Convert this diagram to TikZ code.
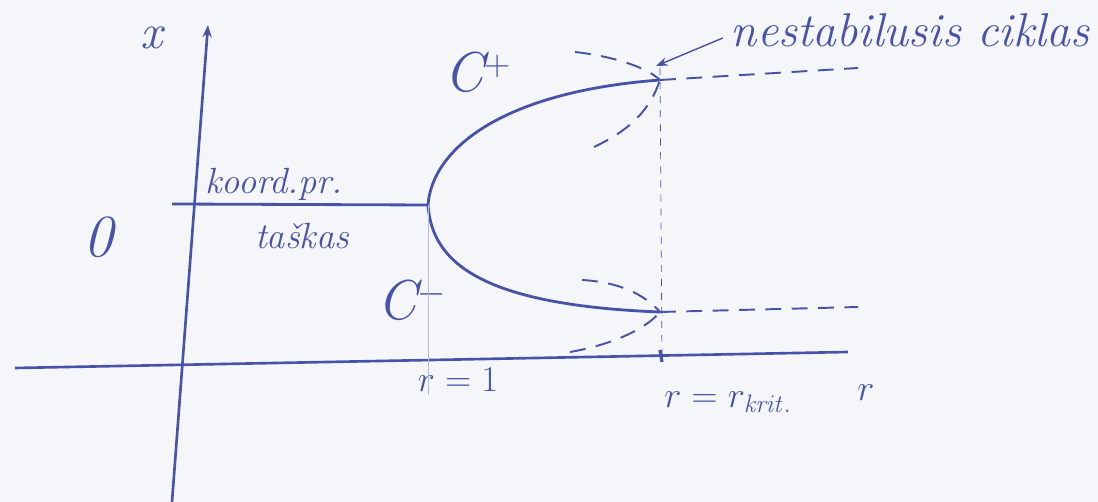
\documentclass[tikz,border=0pt]{standalone}
\usepackage{tikz}
\usetikzlibrary{arrows.meta, positioning}
\definecolor{pen}{RGB}{72,82,170}
\definecolor{paper}{RGB}{244,246,250}

\begin{document}
\begin{tikzpicture}[
    x=0.02cm, y=-0.02cm,
    label/.style={text=pen, font=\huge\itshape, inner sep=1pt},
    curve/.style={draw=pen, line width=1.6pt},
    unstable/.style={draw=pen, line width=1.1pt, dash pattern=on 9pt off 6pt},
    guide/.style={draw=pen!40, very thin},
    arrow/.style={-{Stealth}, draw=pen, thick}
]
\useasboundingbox (0,0) rectangle (1098,502);
\fill[paper] (0,0) rectangle (1098,502);

% Points
\coordinate (xleft) at (15,368);
\coordinate (xright) at (848,352);
\coordinate (ybottom) at (172,502);
\coordinate (ytop) at (208,25);
\coordinate (start) at (172,204);
\coordinate (vertex) at (428,205);
\coordinate (vfoot) at (428,395);
\coordinate (cplus) at (660,80);
\coordinate (cminus) at (660,312);
\coordinate (rkfoot) at (662,362);
\coordinate (rktop) at (660,68);
\coordinate (pend) at (858,68);
\coordinate (mend) at (858,307);

% Nodes
\node[label, font=\fontsize{28}{32}\selectfont\itshape] (xlab) at (152,38) {x};
\node[label, font=\fontsize{34}{40}\selectfont\itshape] (zero) at (98,237) {0};
\node[label] (koord) at (274,184) {koord.pr.};
\node[label] (taskas) at (302,236) {taškas};
\node[label, font=\fontsize{32}{38}\selectfont\itshape] (cpluslab) at (478,72) {C$^{+}$};
\node[label, font=\fontsize{32}{38}\selectfont\itshape] (cminuslab) at (412,300) {C$^{-}$};
\node[label] (r1) at (458,380) {$r=1$};
\node[label] (rkrit) at (728,402) {$r=r_{\mathit{krit.}}$};
\node[label] (rlab) at (866,393) {$r$};
\node[label, font=\fontsize{27}{32}\selectfont\itshape] (cycle) at (910,30) {nestabilusis ciklas};

% Axes
\draw[draw=pen, line width=1.5pt] (xleft) -- (xright);
\draw[draw=pen, line width=1.5pt, -{Stealth[length=7pt]}] (ybottom) -- (ytop);

% Stable branches
\draw[curve] (start) -- (vertex);
\draw[curve] (vertex) .. controls (432,150) and (500,92) .. (cplus);
\draw[curve] (vertex) .. controls (432,262) and (480,305) .. (cminus);

% Guides and critical value
\draw[guide] (vertex) -- (vfoot);
\draw[unstable, thin, dash pattern=on 4pt off 4pt] (rktop) -- (rkfoot);
\draw[draw=pen, line width=1.8pt] (660,350) -- (rkfoot);

% Unstable cycles
\draw[unstable] (cplus) -- (pend);
\draw[unstable] (cminus) -- (mend);
\draw[unstable] (575,52) .. controls (610,56) and (645,66) .. (cplus);
\draw[unstable] (594,147) .. controls (630,130) and (650,110) .. (cplus);
\draw[unstable] (582,280) .. controls (620,282) and (645,295) .. (cminus);
\draw[unstable] (570,352) .. controls (610,345) and (645,330) .. (cminus);

% Annotation
\draw[arrow] (cycle.west) ++(-6,8) coordinate (tail) (tail) -- (656,66);
\end{tikzpicture}
\end{document}
